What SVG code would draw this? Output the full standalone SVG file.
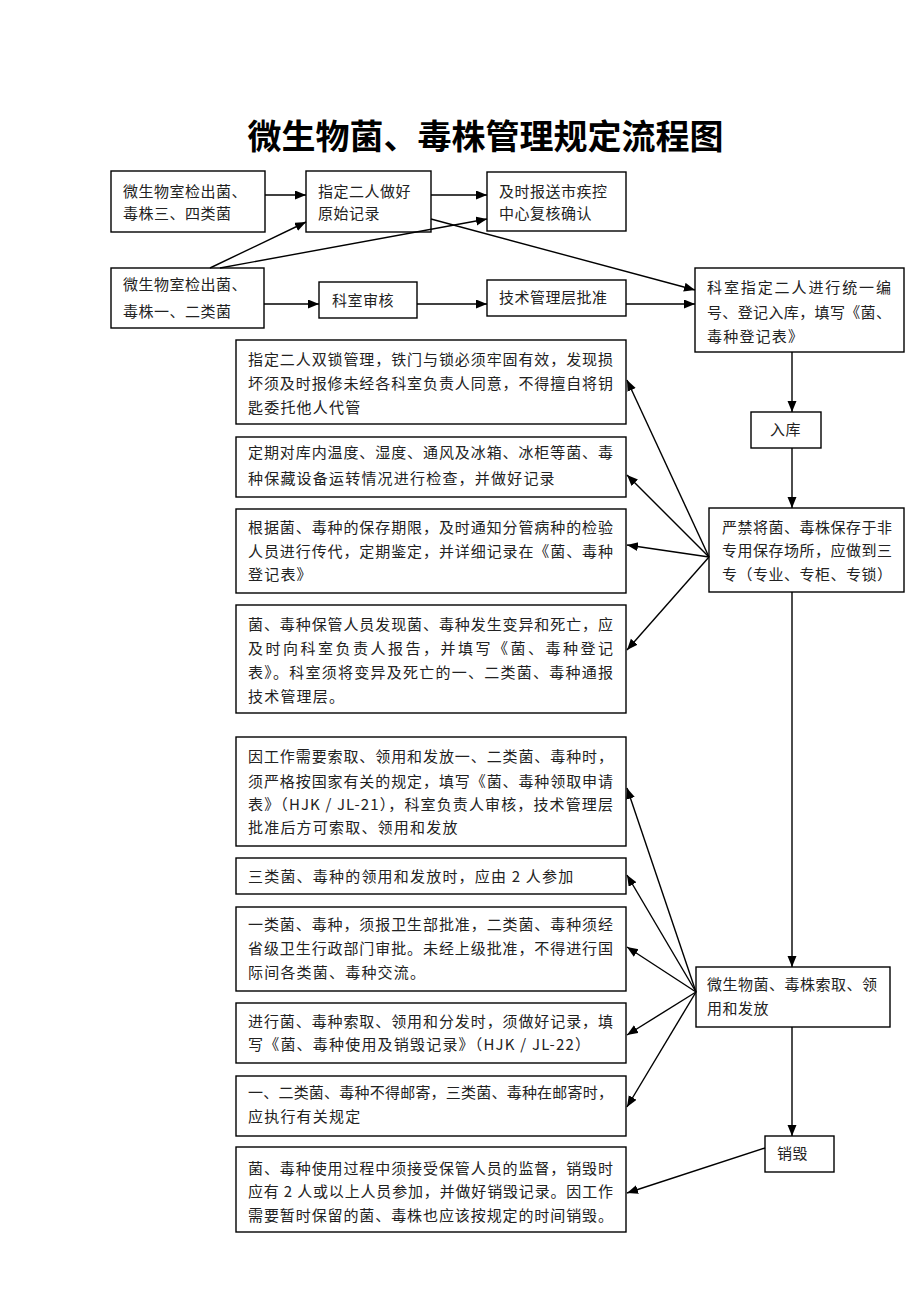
<svg xmlns="http://www.w3.org/2000/svg" width="920" height="1302" viewBox="0 0 920 1302">
<style>
.box{fill:#fff;stroke:#000;stroke-width:1.4}
.t{font-family:"Noto Sans CJK SC","Noto Sans",sans-serif;font-size:15px;fill:#222}
.s{letter-spacing:0.5px}
.l{letter-spacing:1.2px}
.title{font-family:"Noto Sans CJK SC","Noto Sans",sans-serif;font-size:34px;font-weight:bold;fill:#000}
.c line{stroke:#000;stroke-width:1.4;marker-end:url(#ah)}
</style>
<defs>
<marker id="ah" markerUnits="userSpaceOnUse" markerWidth="12" markerHeight="10" refX="11" refY="4.5" orient="auto">
<path d="M0,0 L11,4.5 L0,9 z" fill="#000"/>
</marker>
</defs>
<rect width="920" height="1302" fill="#fff"/>
<text class="title" x="485.5" y="149" text-anchor="middle">微生物菌、毒株管理规定流程图</text>

<g id="b1"><rect class="box" x="111" y="171" width="154" height="61"/>
<text class="t s" x="123" y="197">微生物室检出菌、</text><text class="t s" x="123" y="219">毒株三、四类菌</text></g>
<g id="b2"><rect class="box" x="306" y="171" width="125" height="61"/>
<text class="t s" x="318" y="197">指定二人做好</text><text class="t s" x="318" y="219">原始记录</text></g>
<g id="b3"><rect class="box" x="487" y="172" width="139" height="59"/>
<text class="t s" x="499" y="197">及时报送市疾控</text><text class="t s" x="499" y="219">中心复核确认</text></g>
<g id="b4"><rect class="box" x="111" y="268" width="153" height="60"/>
<text class="t s" x="123" y="290">微生物室检出菌、</text><text class="t s" x="123" y="317">毒株一、二类菌</text></g>
<g id="b5"><rect class="box" x="319" y="282" width="98" height="36"/>
<text class="t s" x="332" y="306">科室审核</text></g>
<g id="b6"><rect class="box" x="487" y="280" width="139" height="36"/>
<text class="t s" x="499" y="303">技术管理层批准</text></g>
<g id="b7"><rect class="box" x="695" y="268" width="209" height="84"/>
<text class="t" x="707" y="293" textLength="184" lengthAdjust="spacing">科室指定二人进行统一编</text>
<text class="t" x="707" y="318" textLength="184" lengthAdjust="spacing">号、登记入库，填写《菌、</text>
<text class="t l" x="707" y="342">毒种登记表》</text></g>
<g id="b8"><rect class="box" x="751" y="412" width="70" height="36"/>
<text class="t s" x="770" y="435">入库</text></g>
<g id="b9"><rect class="box" x="709" y="508" width="195" height="84"/>
<text class="t s" x="722" y="533">严禁将菌、毒株保存于非</text>
<text class="t s" x="722" y="556">专用保存场所，应做到三</text>
<text class="t s" x="722" y="580">专（专业、专柜、专锁）</text></g>

<g id="r1"><rect class="box" x="236" y="340" width="390" height="84"/>
<text class="t" x="248" y="365" textLength="365" lengthAdjust="spacing">指定二人双锁管理，铁门与锁必须牢固有效，发现损</text>
<text class="t" x="248" y="389" textLength="365" lengthAdjust="spacing">坏须及时报修未经各科室负责人同意，不得擅自将钥</text>
<text class="t l" x="248" y="413">匙委托他人代管</text></g>
<g id="r2"><rect class="box" x="236" y="437" width="390" height="60"/>
<text class="t" x="248" y="458" textLength="365" lengthAdjust="spacing">定期对库内温度、湿度、通风及冰箱、冰柜等菌、毒</text>
<text class="t l" x="248" y="484">种保藏设备运转情况进行检查，并做好记录</text></g>
<g id="r3"><rect class="box" x="236" y="509" width="390" height="84"/>
<text class="t" x="248" y="533" textLength="365" lengthAdjust="spacing">根据菌、毒种的保存期限，及时通知分管病种的检验</text>
<text class="t" x="248" y="557" textLength="365" lengthAdjust="spacing">人员进行传代，定期鉴定，并详细记录在《菌、毒种</text>
<text class="t l" x="248" y="580">登记表》</text></g>
<g id="r4"><rect class="box" x="236" y="605" width="390" height="108"/>
<text class="t" x="248" y="630" textLength="365" lengthAdjust="spacing">菌、毒种保管人员发现菌、毒种发生变异和死亡，应</text>
<text class="t" x="248" y="654" textLength="365" lengthAdjust="spacing">及时向科室负责人报告，并填写《菌、毒种登记</text>
<text class="t" x="248" y="678" textLength="365" lengthAdjust="spacing">表》。科室须将变异及死亡的一、二类菌、毒种通报</text>
<text class="t l" x="248" y="702">技术管理层。</text></g>
<g id="r5"><rect class="box" x="236" y="737" width="390" height="109"/>
<text class="t" x="248" y="762" textLength="365" lengthAdjust="spacing">因工作需要索取、领用和发放一、二类菌、毒种时，</text>
<text class="t" x="248" y="787" textLength="365" lengthAdjust="spacing">须严格按国家有关的规定，填写《菌、毒种领取申请</text>
<text class="t" x="248" y="810" textLength="365" lengthAdjust="spacing">表》（HJK / JL-21），科室负责人审核，技术管理层</text>
<text class="t l" x="248" y="833">批准后方可索取、领用和发放</text></g>
<g id="r6"><rect class="box" x="236" y="858" width="390" height="36"/>
<text class="t l" x="248" y="882">三类菌、毒种的领用和发放时，应由 2 人参加</text></g>
<g id="r7"><rect class="box" x="236" y="907" width="390" height="84"/>
<text class="t" x="248" y="930" textLength="365" lengthAdjust="spacing">一类菌、毒种，须报卫生部批准，二类菌、毒种须经</text>
<text class="t" x="248" y="954" textLength="365" lengthAdjust="spacing">省级卫生行政部门审批。未经上级批准，不得进行国</text>
<text class="t l" x="248" y="978">际间各类菌、毒种交流。</text></g>
<g id="r8"><rect class="box" x="236" y="1003" width="390" height="60"/>
<text class="t" x="248" y="1027" textLength="365" lengthAdjust="spacing">进行菌、毒种索取、领用和分发时，须做好记录，填</text>
<text class="t l" x="248" y="1050">写《菌、毒种使用及销毁记录》（HJK / JL-22）</text></g>
<g id="r9"><rect class="box" x="236" y="1076" width="390" height="60"/>
<text class="t" x="248" y="1098" textLength="365" lengthAdjust="spacing">一、二类菌、毒种不得邮寄，三类菌、毒种在邮寄时，</text>
<text class="t l" x="248" y="1122">应执行有关规定</text></g>
<g id="r10"><rect class="box" x="236" y="1147" width="390" height="85"/>
<text class="t" x="248" y="1174" textLength="365" lengthAdjust="spacing">菌、毒种使用过程中须接受保管人员的监督，销毁时</text>
<text class="t" x="248" y="1197" textLength="365" lengthAdjust="spacing">应有 2 人或以上人员参加，并做好销毁记录。因工作</text>
<text class="t" x="248" y="1221" textLength="365" lengthAdjust="spacing">需要暂时保留的菌、毒株也应该按规定的时间销毁。</text></g>

<g id="b11"><rect class="box" x="696" y="967" width="194" height="60"/>
<text class="t s" x="707" y="990">微生物菌、毒株索取、领</text>
<text class="t s" x="707" y="1014">用和发放</text></g>
<g id="b12"><rect class="box" x="765" y="1136" width="69" height="36"/>
<text class="t s" x="777" y="1159">销毁</text></g>

<g id="connectors" class="c">
<line x1="265" y1="195" x2="306" y2="195"/>
<line x1="431" y1="195" x2="487" y2="195"/>
<line x1="210" y1="268" x2="306" y2="222"/>
<line x1="220" y1="268" x2="487" y2="219"/>
<line x1="431" y1="219" x2="695" y2="290"/>
<line x1="264" y1="304" x2="319" y2="304"/>
<line x1="417" y1="304" x2="487" y2="304"/>
<line x1="626" y1="304" x2="695" y2="304"/>
<line x1="792" y1="352" x2="792" y2="412"/>
<line x1="792" y1="448" x2="792" y2="508"/>
<line x1="709" y1="557" x2="627" y2="380"/>
<line x1="709" y1="557" x2="627" y2="475"/>
<line x1="709" y1="557" x2="627" y2="545"/>
<line x1="709" y1="557" x2="627" y2="650"/>
<line x1="792" y1="592" x2="792" y2="967"/>
<line x1="792" y1="1027" x2="792" y2="1136"/>
<line x1="696" y1="992" x2="627" y2="788"/>
<line x1="696" y1="992" x2="627" y2="875"/>
<line x1="696" y1="992" x2="627" y2="947"/>
<line x1="696" y1="992" x2="627" y2="1035"/>
<line x1="696" y1="992" x2="627" y2="1107"/>
<line x1="765" y1="1148" x2="627" y2="1193"/>
</g>
</svg>
